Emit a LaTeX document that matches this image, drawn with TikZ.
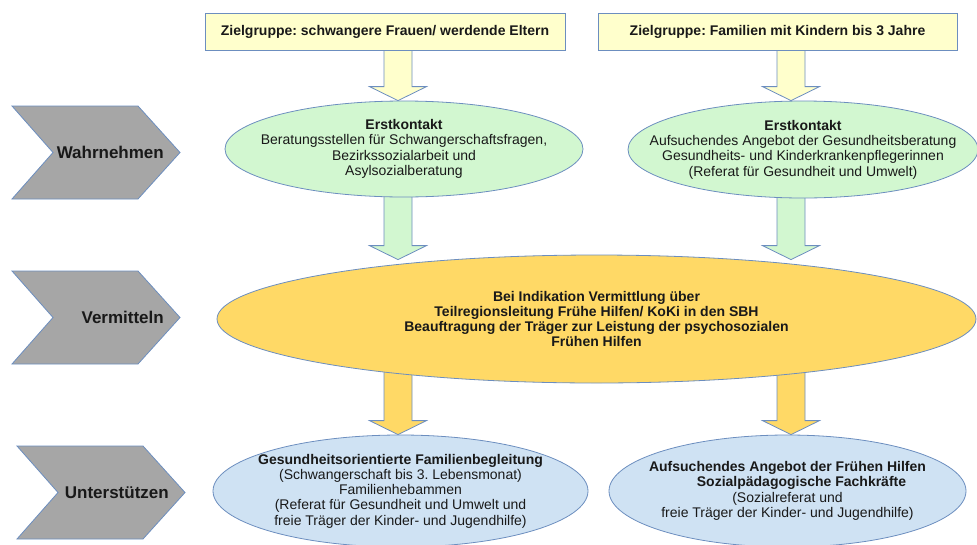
\documentclass[tikz,border=0pt]{standalone}
\usepackage{fontspec}
\setmainfont{Liberation Sans}
\usetikzlibrary{shapes.geometric, calc, backgrounds}
\frenchspacing

\definecolor{edge}{HTML}{6C8EBF}
\definecolor{paleyellow}{HTML}{FFFFCC}
\definecolor{palegreen}{HTML}{D2F7D0}
\definecolor{gold}{HTML}{FFD966}
\definecolor{paleblue}{HTML}{CFE2F3}
\definecolor{stagegray}{HTML}{A6A6A6}

% chevron on the left: x, middle y, name, text
\newcommand\phase[4]{%
    \draw[phase] (#1,#2+46.5) -- ++(126,0) -- ++(42,-46.5) -- ++(-42,-46.5)
        -- ++(-126,0) -- ++(41,46.5) -- cycle;
    \node[phasetext, anchor=east] (#3) at (#1+152,#2) {#4};
}

% block arrow: column x, from, to, tip drop, fill
\newcommand\flowarrow[5]{%
    \draw[flow, fill=#5] let \p1=(#2.center), \p2=(#3.north) in
        ({(#1-14)*1pt},\y1) -- ({(#1+14)*1pt},\y1)
        -- ({(#1+14)*1pt},{\y2-#4pt+14pt}) -- ({(#1+28.5)*1pt},{\y2-#4pt+14pt})
        -- ({#1*1pt},{\y2-#4pt})
        -- ({(#1-28.5)*1pt},{\y2-#4pt+14pt}) -- ({(#1-14)*1pt},{\y2-#4pt+14pt}) -- cycle;
}

\begin{document}
\begin{tikzpicture}[x=1pt, y=1pt,
    every node/.style={font=\fontsize{14}{15.3}\selectfont, text=black!90},
    phase/.style={draw=edge, fill=stagegray, line width=0.8pt, line join=miter},
    phasetext/.style={font=\fontsize{17}{20}\selectfont\bfseries, inner sep=0pt},
    target/.style={draw=edge, fill=paleyellow, line width=0.8pt, minimum height=37,
        inner sep=0pt, font=\fontsize{14}{15.3}\selectfont\bfseries},
    oval/.style={ellipse, draw=edge, line width=0.8pt, align=center,
        inner xsep=-40pt, inner ysep=0pt},
    flow/.style={draw=edge, line width=0.8pt, line join=miter}]

    \useasboundingbox (0,0) rectangle (977,-544);

    \phase{12}{-152.5}{wahr}{Wahrnehmen}
    \phase{12}{-317.5}{verm}{Vermitteln}
    \phase{17}{-492.5}{unter}{Unterstützen}

    \node[target, minimum width=360] (zg1) at (385,-31.5)
        {Zielgruppe: schwangere Frauen/ werdende Eltern};
    \node[target, minimum width=359] (zg2) at (777.5,-31.5)
        {Zielgruppe: Familien mit Kindern bis 3 Jahre};

    \node[oval, fill=palegreen, minimum width=358, minimum height=96] (erst1) at (404,-149)
        {\textbf{Erstkontakt}\\Beratungsstellen für Schwangerschaftsfragen,\\
         Bezirkssozialarbeit und\\Asylsozialberatung};
    \node[oval, fill=palegreen, minimum width=350, minimum height=97] (erst2) at (803,-149.5)
        {\textbf{Erstkontakt}\\Aufsuchendes Angebot der Gesundheitsberatung\\
         Gesundheits- und Kinderkrankenpflegerinnen\\(Referat für Gesundheit und Umwelt)};

    \node[oval, fill=gold, minimum width=759, minimum height=128, font=\fontsize{14}{15.3}\selectfont\bfseries]
        (vermittlung) at (596.5,-319)
        {Bei Indikation Vermittlung über\\Teilregionsleitung Frühe Hilfen/ KoKi in den SBH\\
         Beauftragung der Träger zur Leistung der psychosozialen\\Frühen Hilfen};

    \node[oval, fill=paleblue, minimum width=375, minimum height=112] (begl) at (400.5,-491)
        {\textbf{Gesundheitsorientierte Familienbegleitung}\\(Schwangerschaft bis 3. Lebensmonat)\\
         Familienhebammen\\(Referat für Gesundheit und Umwelt und\\freie Träger der Kinder- und Jugendhilfe)};
    \node[oval, fill=paleblue, minimum width=357, minimum height=112] (angebot) at (787.5,-491)
        {\textbf{Aufsuchendes Angebot der Frühen Hilfen}\\
         \hspace*{28pt}\textbf{Sozialpädagogische Fachkräfte}\\(Sozialreferat und\\
         freie Träger der Kinder- und Jugendhilfe)};

    \begin{scope}[on background layer]
        \flowarrow{398}{zg1}{erst1}{0}{paleyellow}
        \flowarrow{791}{zg2}{erst2}{0}{paleyellow}
        \flowarrow{398}{erst1}{vermittlung}{5}{palegreen}
        \flowarrow{791}{erst2}{vermittlung}{5}{palegreen}
        \flowarrow{398}{vermittlung}{begl}{0}{gold}
        \flowarrow{791}{vermittlung}{angebot}{0}{gold}
    \end{scope}

\end{tikzpicture}
\end{document}
